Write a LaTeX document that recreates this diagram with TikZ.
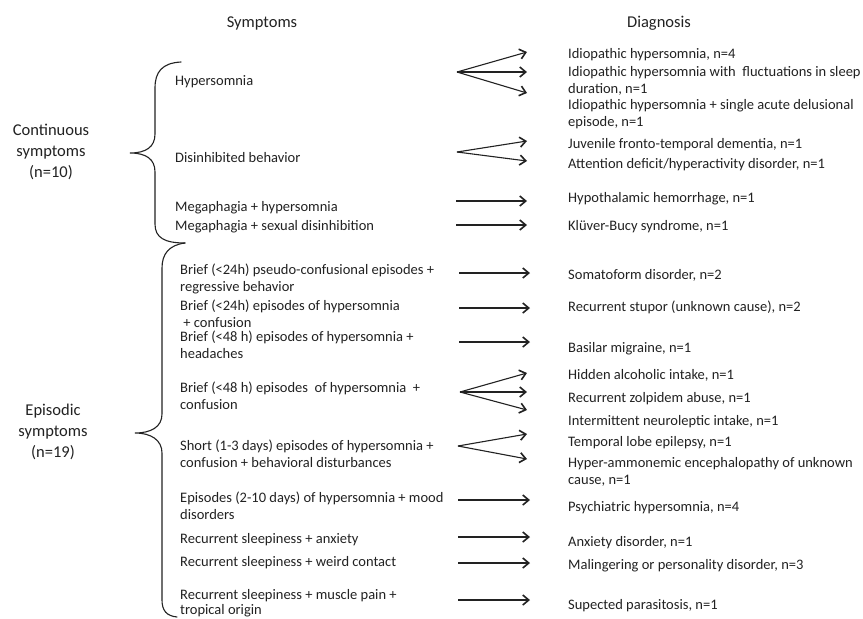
\documentclass[tikz,border=0pt]{standalone}
\usepackage{fontspec}
\setmainfont{Carlito}
\usetikzlibrary{arrows.meta}
\definecolor{ink}{HTML}{222222}
\tikzset{
  body/.style={inner sep=0pt, anchor=base west, align=left, text=ink, font=\fontsize{14.5}{16.8}\selectfont},
  head/.style={inner sep=0pt, anchor=base, text=ink, font=\fontsize{16.5}{21}\selectfont},
  group/.style={inner sep=0pt, align=center, text=ink, font=\fontsize{16.5}{21}\selectfont},
  arr/.style={draw=ink, line width=1.1pt, -{Straight Barb[length=6pt,width=10pt,line width=1.6pt]}},
  brace/.style={draw=ink, line width=1.1pt, line cap=round}
}
\begin{document}
\begin{tikzpicture}[x=1pt,y=-1pt]
\useasboundingbox[fill=white] (0,0) rectangle (863,619);

% headers
\node[head] (hs) at (262,27) {Symptoms};
\node[head] (hd) at (659,27) {Diagnosis};

% groups
\node[group] (gc) at (51,152) {Continuous\\symptoms\\(n=10)};
\node[group] (ge) at (53,432) {Episodic\\symptoms\\(n=19)};

% braces
\draw[brace] (181,62) .. controls (162,63) and (155,72) .. (155,88) -- (155,134)
  .. controls (155,147) and (146,153) .. (130,153)
  .. controls (146,153) and (155,159) .. (155,172) -- (155,224)
  .. controls (155,238) and (165,243) .. (185,243);
\draw[brace] (185,243) .. controls (169,245) and (162,254) .. (162,268) -- (162,414)
  .. controls (162,427) and (151,433) .. (135,433)
  .. controls (151,433) and (162,440) .. (162,453) -- (162,600)
  .. controls (162,611) and (167,616) .. (177,617);

% symptoms (multi-line nodes: y is the baseline of the last line)
\node[body] (s1) at (175,85) {Hypersomnia};
\node[body] (s2) at (175,162) {Disinhibited behavior};
\node[body] (s3) at (175,211) {Megaphagia + hypersomnia};
\node[body] (s4) at (175,230) {Megaphagia + sexual disinhibition};
\node[body] (s5) at (180,291) {Brief (<24h) pseudo-confusional episodes +\\regressive behavior};
\node[body] (s6) at (180,327) {Brief (<24h) episodes of hypersomnia\\\ + confusion};
\node[body] (s7) at (180,358) {Brief (<48 h) episodes of hypersomnia +\\headaches};
\node[body] (s8) at (180,409) {Brief (<48 h) episodes\ \ of hypersomnia\ \ +\\confusion};
\node[body] (s9) at (180,467) {Short (1-3 days) episodes of hypersomnia +\\confusion + behavioral disturbances};
\node[body] (s10) at (180,519) {Episodes (2-10 days) of hypersomnia + mood\\disorders};
\node[body] (s11) at (180,543) {Recurrent sleepiness + anxiety};
\node[body] (s12) at (180,566) {Recurrent sleepiness + weird contact};
\node[body, font=\fontsize{14.5}{15.5}\selectfont] (s13) at (180,614.5) {Recurrent sleepiness + muscle pain +\\tropical origin};

% diagnoses
\node[body] (d1) at (568,58) {Idiopathic hypersomnia, n=4};
\node[body] (d2) at (568,93) {Idiopathic hypersomnia with\ \ fluctuations in sleep\\duration, n=1};
\node[body] (d3) at (568,126) {Idiopathic hypersomnia + single acute delusional\\episode, n=1};
\node[body] (d4) at (568,148) {Juvenile fronto-temporal dementia, n=1};
\node[body] (d5) at (568,168) {Attention deficit/hyperactivity disorder, n=1};
\node[body] (d6) at (568,202) {Hypothalamic hemorrhage, n=1};
\node[body] (d7) at (568,230) {Klüver-Bucy syndrome, n=1};
\node[body] (d8) at (568,279) {Somatoform disorder, n=2};
\node[body] (d9) at (568,311) {Recurrent stupor (unknown cause), n=2};
\node[body] (d10) at (568,352) {Basilar migraine, n=1};
\node[body] (d11) at (568,379) {Hidden alcoholic intake, n=1};
\node[body] (d12) at (568,402) {Recurrent zolpidem abuse, n=1};
\node[body] (d13) at (568,425) {Intermittent neuroleptic intake, n=1};
\node[body] (d14) at (568,446) {Temporal lobe epilepsy, n=1};
\node[body] (d15) at (568,484) {Hyper-ammonemic encephalopathy of unknown\\cause, n=1};
\node[body] (d16) at (568,511) {Psychiatric hypersomnia, n=4};
\node[body] (d17) at (568,546) {Anxiety disorder, n=1};
\node[body] (d18) at (568,569) {Malingering or personality disorder, n=3};
\node[body] (d19) at (568,609) {Supected parasitosis, n=1};

% arrow coordinates
\coordinate (o1) at (457,72);
\coordinate (t1a) at (527,52);
\coordinate (t1b) at (527,72);
\coordinate (t1c) at (527,93);
\coordinate (o2) at (457,152);
\coordinate (t2a) at (527,141);
\coordinate (t2b) at (527,161);
\coordinate (o3) at (456,201);
\coordinate (t3) at (527,201);
\coordinate (o4) at (456,225);
\coordinate (t4) at (527,225);
\coordinate (o5) at (459,273);
\coordinate (t5) at (530,273);
\coordinate (o6) at (459,308);
\coordinate (t6) at (530,308);
\coordinate (o7) at (459,342);
\coordinate (t7) at (530,342);
\coordinate (o8) at (460,392);
\coordinate (t8a) at (527,373);
\coordinate (t8b) at (527,392);
\coordinate (t8c) at (527,410);
\coordinate (o9) at (458,446);
\coordinate (t9a) at (527,434);
\coordinate (t9b) at (527,459);
\coordinate (o10) at (458,500);
\coordinate (t10) at (530,500);
\coordinate (o11) at (458,537);
\coordinate (t11) at (530,537);
\coordinate (o12) at (458,563);
\coordinate (t12) at (530,563);
\coordinate (o13) at (458,600);
\coordinate (t13) at (530,600);

\draw[arr] (o1) -- (t1a);
\draw[arr] (o1) -- (t1b);
\draw[arr] (o1) -- (t1c);
\draw[arr] (o2) -- (t2a);
\draw[arr] (o2) -- (t2b);
\draw[arr] (o3) -- (t3);
\draw[arr] (o4) -- (t4);
\draw[arr] (o5) -- (t5);
\draw[arr] (o6) -- (t6);
\draw[arr] (o7) -- (t7);
\draw[arr] (o8) -- (t8a);
\draw[arr] (o8) -- (t8b);
\draw[arr] (o8) -- (t8c);
\draw[arr] (o9) -- (t9a);
\draw[arr] (o9) -- (t9b);
\draw[arr] (o10) -- (t10);
\draw[arr] (o11) -- (t11);
\draw[arr] (o12) -- (t12);
\draw[arr] (o13) -- (t13);
\end{tikzpicture}
\end{document}
